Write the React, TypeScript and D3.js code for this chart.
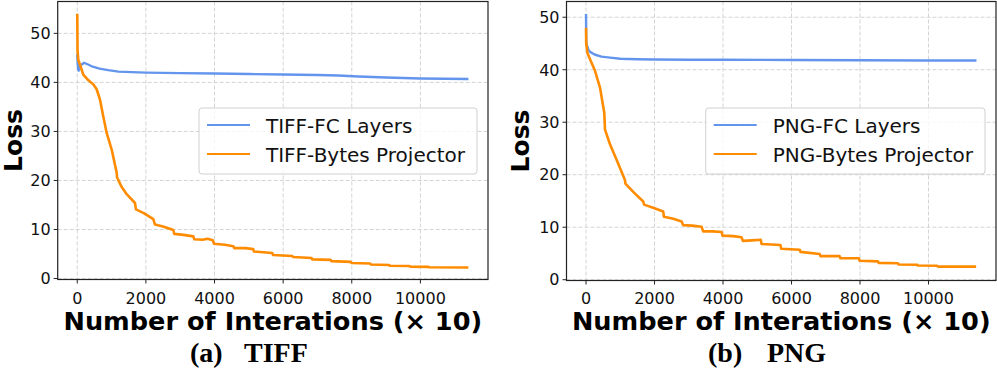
import React from 'react';
import { scaleLinear, line } from 'd3';

// iteration (x10), loss
const tiffFcLayers: [number, number][] = [
  [0, 45.8], [10, 44.2], [25, 42.6], [45, 42.4], [70, 43.0], [120, 43.6], [200, 44.0],
  [300, 43.7], [450, 43.2], [650, 42.8], [900, 42.5], [1200, 42.2], [1600, 42.1],
  [2000, 42.0], [3000, 41.9], [4000, 41.8], [5000, 41.7], [6000, 41.6], [7000, 41.5],
  [7600, 41.4], [8200, 41.2], [9000, 41.0], [10000, 40.8], [11400, 40.7],
];

const tiffBytesProjector: [number, number][] = [
  [0, 54.0], [8, 46.5], [30, 44.6], [80, 43.6], [175, 41.6], [300, 40.6], [466, 39.6],
  [565, 38.6], [662, 36.5], [760, 33.0], [857, 29.7], [1003, 26.3], [1149, 21.6],
  [1160, 20.6], [1300, 18.6], [1440, 17.2], [1682, 15.4], [1711, 14.1], [1950, 13.3],
  [2216, 12.1], [2265, 11.0], [2500, 10.6], [2799, 9.9], [2828, 9.1], [3100, 8.9],
  [3382, 8.6], [3410, 8.0], [3650, 7.9], [3800, 8.1], [3950, 7.8], [3985, 7.1],
  [4300, 6.9], [4548, 6.6], [4575, 6.2], [4900, 6.2], [5128, 6.0], [5150, 5.5],
  [5683, 5.2], [5705, 4.8], [6266, 4.6], [6290, 4.4], [6830, 4.2], [6850, 3.9],
  [7384, 3.8], [7405, 3.55], [7974, 3.4], [7995, 3.15], [8534, 3.05], [8555, 2.85],
  [9088, 2.75], [9110, 2.6], [9680, 2.55], [9700, 2.42], [10234, 2.38], [10255, 2.3],
  [11400, 2.25],
];

const pngFcLayers: [number, number][] = [
  [0, 50.6], [6, 45.2], [30, 44.6], [70, 43.8], [117, 43.4], [250, 42.9], [450, 42.5],
  [700, 42.3], [1000, 42.1], [1500, 42.0], [2000, 41.95], [3000, 41.9], [4000, 41.9],
  [6000, 41.85], [8000, 41.8], [10000, 41.75], [11400, 41.75],
];

const pngBytesProjector: [number, number][] = [
  [0, 48.0], [6, 45.0], [40, 43.2], [117, 42.0], [262, 39.8], [408, 36.6], [533, 31.8],
  [554, 28.6], [700, 25.8], [895, 22.8], [1137, 19.0], [1150, 18.3], [1400, 16.6],
  [1671, 14.9], [1695, 14.3], [2000, 13.6], [2254, 13.0], [2275, 12.0], [2550, 11.6],
  [2790, 11.1], [2835, 10.4], [3100, 10.3], [3373, 10.1], [3420, 9.2], [3700, 9.2],
  [3960, 9.1], [3985, 8.4], [4300, 8.3], [4540, 8.1], [4580, 7.4], [4850, 7.5],
  [5102, 7.6], [5125, 6.8], [5676, 6.6], [5700, 5.9], [6239, 5.7], [6260, 5.3],
  [6822, 4.9], [6845, 4.5], [7405, 4.5], [7428, 4.1], [7968, 4.1], [7990, 3.6],
  [8522, 3.5], [8545, 3.2], [9105, 3.15], [9128, 2.9], [9670, 2.85], [9692, 2.7],
  [10253, 2.65], [10275, 2.5], [11390, 2.5],
];

const xTicks = [0, 2000, 4000, 6000, 8000, 10000];
const yTicks = [0, 10, 20, 30, 40, 50];

const BLUE = '#6495ED';
const ORANGE = '#FF8C00';
const SANS = 'DejaVu Sans';

type PanelProps = {
  fc: [number, number][];
  bytes: [number, number][];
  labels: [string, string];
  caption: [string, string];
  left: number;
  right: number;
  top: number;
  bottom: number;
  yDomain: [number, number];
  legendX: number;
  captionX: [number, number];
  loss: number;
};

const Panel = ({ fc, bytes, labels, caption, left, right, top, bottom, yDomain, legendX, captionX, loss }: PanelProps) => {
  const x = scaleLinear().domain([-570, 11970]).range([left, right]);
  const y = scaleLinear().domain(yDomain).range([bottom, top]);
  const path = line<[number, number]>().x(d => x(d[0])).y(d => y(d[1]));
  const midX = (left + right) / 2;
  const midY = (top + bottom) / 2;

  return (
    <g>
      {/* grid */}
      {xTicks.map(t => (
        <line key={'gx' + t} x1={x(t)} x2={x(t)} y1={top} y2={bottom}
          stroke="#d4d4d4" strokeWidth={1} strokeDasharray="4,2" />
      ))}
      {yTicks.map(t => (
        <line key={'gy' + t} x1={left} x2={right} y1={y(t)} y2={y(t)}
          stroke="#d4d4d4" strokeWidth={1} strokeDasharray="4,2" />
      ))}

      {/* data */}
      <path d={path(fc) || ''} fill="none" stroke={BLUE} strokeWidth={2.4} strokeLinejoin="round" />
      <path d={path(bytes) || ''} fill="none" stroke={ORANGE} strokeWidth={2.6} strokeLinejoin="round" />

      {/* frame */}
      <rect x={left} y={top} width={right - left} height={bottom - top} fill="none" stroke="#222" strokeWidth={1.2} />

      {/* ticks */}
      {xTicks.map(t => (
        <g key={'tx' + t}>
          <line x1={x(t)} x2={x(t)} y1={bottom} y2={bottom + 4} stroke="#222" strokeWidth={1} />
          <text x={x(t)} y={303.5} textAnchor="middle" fontFamily={SANS} fontSize={16} fill="#111">{t}</text>
        </g>
      ))}
      {yTicks.map(t => (
        <g key={'ty' + t}>
          <line x1={left - 4} x2={left} y1={y(t)} y2={y(t)} stroke="#222" strokeWidth={1} />
          <text x={left - 7} y={y(t)} dy="0.36em" textAnchor="end" fontFamily={SANS} fontSize={16} fill="#111">{t}</text>
        </g>
      ))}

      {/* axis labels */}
      <text x={midX} y={330} textAnchor="middle" fontFamily={SANS} fontWeight="bold" fontSize={25.6} fill="#000">
        Number of Interations (× 10)
      </text>
      <text transform={`translate(${loss},${midY}) rotate(-90)`} textAnchor="middle" fontFamily={SANS}
        fontWeight="bold" fontSize={25} fill="#000">Loss</text>

      {/* legend */}
      <rect x={legendX} y={108} width={right - 11 - legendX} height={66} rx={3} fill="#fff" fillOpacity={0.8}
        stroke="#d0d0d0" strokeWidth={1} />
      <line x1={legendX + 8} x2={legendX + 51} y1={125} y2={125} stroke={BLUE} strokeWidth={2} />
      <line x1={legendX + 8} x2={legendX + 51} y1={154} y2={154} stroke={ORANGE} strokeWidth={2} />
      <text x={legendX + 67} y={132.5} fontFamily={SANS} fontSize={20} fill="#111">{labels[0]}</text>
      <text x={legendX + 67} y={161.5} fontFamily={SANS} fontSize={20} fill="#111">{labels[1]}</text>

      {/* caption */}
      <text x={captionX[0]} y={362} fontFamily="Liberation Serif" fontWeight="bold" fontSize={28} fill="#000">{caption[0]}</text>
      <text x={captionX[1]} y={362} fontFamily="Liberation Serif" fontWeight="bold" fontSize={28} fill="#000">{caption[1]}</text>
    </g>
  );
};

export default function App() {
  return (
    <svg width={997} height={368} style={{ position: 'absolute', left: 0, top: 0, background: '#fff' }}>
      <rect width={997} height={368} fill="#fff" />
      <Panel fc={tiffFcLayers} bytes={tiffBytesProjector} labels={['TIFF-FC Layers', 'TIFF-Bytes Projector']}
        caption={['(a)', 'TIFF']} left={57.7} right={488} top={1.5} bottom={279.5} yDomain={[-0.2, 56.5]}
        legendX={199} captionX={[190, 244]} loss={21.5} />
      <Panel fc={pngFcLayers} bytes={pngBytesProjector} labels={['PNG-FC Layers', 'PNG-Bytes Projector']}
        caption={['(b)', 'PNG']} left={566.5} right={996} top={1.5} bottom={280.5} yDomain={[-0.15, 53.0]}
        legendX={705.7} captionX={[708, 767]} loss={529} />
    </svg>
  );
}
